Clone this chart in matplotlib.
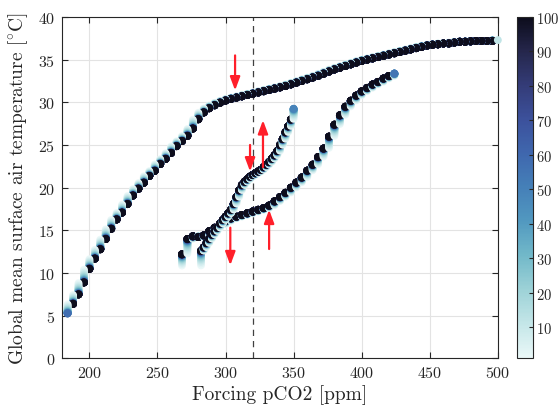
import numpy as np
import matplotlib
matplotlib.use("Agg")
import matplotlib.pyplot as plt
from matplotlib.colors import LinearSegmentedColormap

plt.rcParams['font.family'] = ['cmr10', 'DejaVu Serif']
plt.rcParams['mathtext.fontset'] = 'cm'
plt.rcParams['axes.unicode_minus'] = False
plt.rcParams['axes.formatter.use_mathtext'] = True

# ---------------- data ----------------
# Upper branch (decreasing CO2): step CO2 [ppm] and end-of-step temperature [C]
co2_upper = [496, 492, 488, 484, 480, 476, 472, 468, 464, 460, 456, 452, 448, 444,
             440, 436, 432, 428, 424, 420, 416, 412, 408, 404, 400, 396, 392, 388,
             384, 380, 376, 372, 368, 364, 360, 356, 352, 348, 344, 340, 336, 332,
             328, 324, 320, 316, 312, 308, 304, 300, 296, 292, 288, 284, 280, 276,
             272, 268, 264, 260, 256, 252, 248, 244, 240, 236, 232, 228, 224, 220,
             216, 212, 208, 204, 200, 196, 192, 188, 184]
temp_upper = [37.2, 37.2, 37.2, 37.2, 37.15, 37.1, 37.1, 37.0, 36.9, 36.9, 36.8, 36.75, 36.65, 36.5,
              36.35, 36.2, 36.05, 35.9, 35.75, 35.6, 35.45, 35.3, 35.15, 35.0, 34.85, 34.65, 34.45, 34.25,
              34.05, 33.85, 33.6, 33.35, 33.1, 32.9, 32.7, 32.5, 32.3, 32.1, 31.9, 31.75, 31.6, 31.45,
              31.3, 31.15, 31.0, 30.85, 30.7, 30.55, 30.4, 30.2, 29.95, 29.65, 29.3, 28.8, 28.0, 26.9,
              26.05, 25.45, 24.85, 24.05, 23.35, 22.75, 21.95, 21.35, 20.55, 19.85, 19.05, 18.05, 17.05, 16.25,
              15.15, 13.95, 12.75, 11.65, 10.45, 8.85, 7.45, 6.35, 5.15]
start_upper = (500, 37.3)
last_year_upper = 60

# Lower branch (increasing CO2)
co2_lower = [268, 272, 276, 280, 284, 288, 292, 296, 300, 304, 308, 312, 316, 320,
             324, 328, 332, 336, 340, 344, 348, 352, 356, 360, 364, 368, 372, 376,
             380, 384, 388, 392, 396, 400, 404, 408, 412, 416, 420, 424]
temp_lower = [12.2, 14.0, 14.3, 14.2, 14.4, 14.9, 15.3, 15.7, 16.1, 16.4, 16.6, 16.8, 17.0, 17.2,
              17.4, 17.6, 17.9, 18.4, 18.9, 19.4, 20.0, 20.6, 21.2, 22.0, 22.7, 23.6, 24.6, 26.0,
              27.4, 28.5, 29.5, 30.2, 30.8, 31.3, 31.7, 32.1, 32.4, 32.8, 33.1, 33.4]
start_lower = (268, 10.8)
last_year_lower = 55

# Middle branch (increasing CO2)
co2_middle = [282, 284, 286, 288, 290, 292, 294, 296, 298, 300, 302, 304, 306, 308,
              310, 312, 314, 316, 318, 320, 322, 324, 326, 328, 330, 332, 334, 336,
              338, 340, 342, 344, 346, 348, 350]
temp_middle = [12.6, 13.0, 13.5, 14.0, 14.5, 14.9, 15.3, 15.8, 16.2, 16.6, 17.0, 17.4, 18.1, 18.9,
               19.7, 20.3, 20.7, 21.0, 21.3, 21.5, 21.7, 21.9, 22.1, 22.4, 22.7, 23.0, 23.4, 23.8,
               24.3, 25.0, 25.7, 26.5, 27.2, 28.0, 29.4]
start_middle = (282, 10.8)
last_year_middle = 50

# Red arrows: (x, y_from, y_to)
arrows_x = [307, 318, 327.5, 303.5, 332]
arrows_y0 = [35.5, 25.0, 22.4, 15.3, 12.8]
arrows_y1 = [31.4, 21.9, 27.9, 10.9, 17.4]

threshold_co2 = 320
years = np.arange(1, 101, 3)

# ---------------- colormap (light cyan -> navy) ----------------
cmap = LinearSegmentedColormap.from_list(
    "ice_r",
    ["#eaf8f8", "#c4e6e8", "#9dd2d7", "#72b9c9", "#5299c0", "#4580b8",
     "#3f67ae", "#3c519c", "#343c78", "#25274c", "#0d0d1c"])


def branch_points(start, co2s, temps, last_year, tau=22.0):
    xs, ys, cs = [], [], []
    prev = start[1]
    for i, (c, t) in enumerate(zip(co2s, temps)):
        yrs = years if i < len(co2s) - 1 else years[years <= last_year]
        tt = t + (prev - t) * np.exp(-yrs / tau)
        xs.extend([c] * len(yrs))
        ys.extend(tt)
        cs.extend(yrs)
        prev = t
    return np.array(xs, float), np.array(ys, float), np.array(cs, float)


fig = plt.figure(figsize=(5.6, 4.1), dpi=100)
ax = fig.add_axes([0.111, 0.124, 0.778, 0.832])
cax = fig.add_axes([0.923, 0.124, 0.029, 0.832])

sc = None
for start, co2s, temps, ly in [(start_upper, co2_upper, temp_upper, last_year_upper),
                               (start_lower, co2_lower, temp_lower, last_year_lower),
                               (start_middle, co2_middle, temp_middle, last_year_middle)]:
    x, y, c = branch_points(start, co2s, temps, ly)
    sc = ax.scatter(x, y, c=c, cmap=cmap, vmin=1, vmax=100, s=32,
                    edgecolors='none', zorder=3)

# initial state of the upper branch (first year)
ax.scatter([start_upper[0]], [start_upper[1]], c=[12], cmap=cmap, vmin=1, vmax=100,
           s=32, edgecolors='none', zorder=4, clip_on=False)

ax.axvline(threshold_co2, color='#404040', lw=0.9, ls=(0, (5, 4)), zorder=2)

for xa, ya0, ya1 in zip(arrows_x, arrows_y0, arrows_y1):
    ax.annotate('', xy=(xa, ya1), xytext=(xa, ya0),
                arrowprops=dict(arrowstyle='-|>,head_length=0.8,head_width=0.3',
                                color='#ff1f2a', lw=1.6, shrinkA=0, shrinkB=0),
                zorder=5)

ax.set_xlim(180, 500)
ax.set_ylim(0, 40)
ax.set_xticks([200, 250, 300, 350, 400, 450, 500])
ax.set_yticks(np.arange(0, 41, 5))
ax.grid(True, color='#e3e3e3', lw=0.8, zorder=0)
ax.set_axisbelow(True)
ax.tick_params(direction='in', top=True, right=True, length=4, width=0.8,
               labelsize=11.5, colors='#262626', pad=5)
for sp in ax.spines.values():
    sp.set_color('#262626')
    sp.set_linewidth(0.8)
ax.set_xlabel('Forcing pCO2 [ppm]', fontsize=14, color='#262626', labelpad=3)
ax.set_ylabel(r'Global mean surface air temperature [$^{\circ}$C]', fontsize=14,
              color='#262626', labelpad=6)

cb = fig.colorbar(sc, cax=cax)
cb.set_ticks(np.arange(10, 101, 10))
cb.ax.tick_params(direction='in', length=3, width=0.8, labelsize=10.5,
                  colors='#262626', pad=2)
cb.outline.set_edgecolor('#262626')
cb.outline.set_linewidth(0.8)

fig.savefig('out.png', dpi=100)
